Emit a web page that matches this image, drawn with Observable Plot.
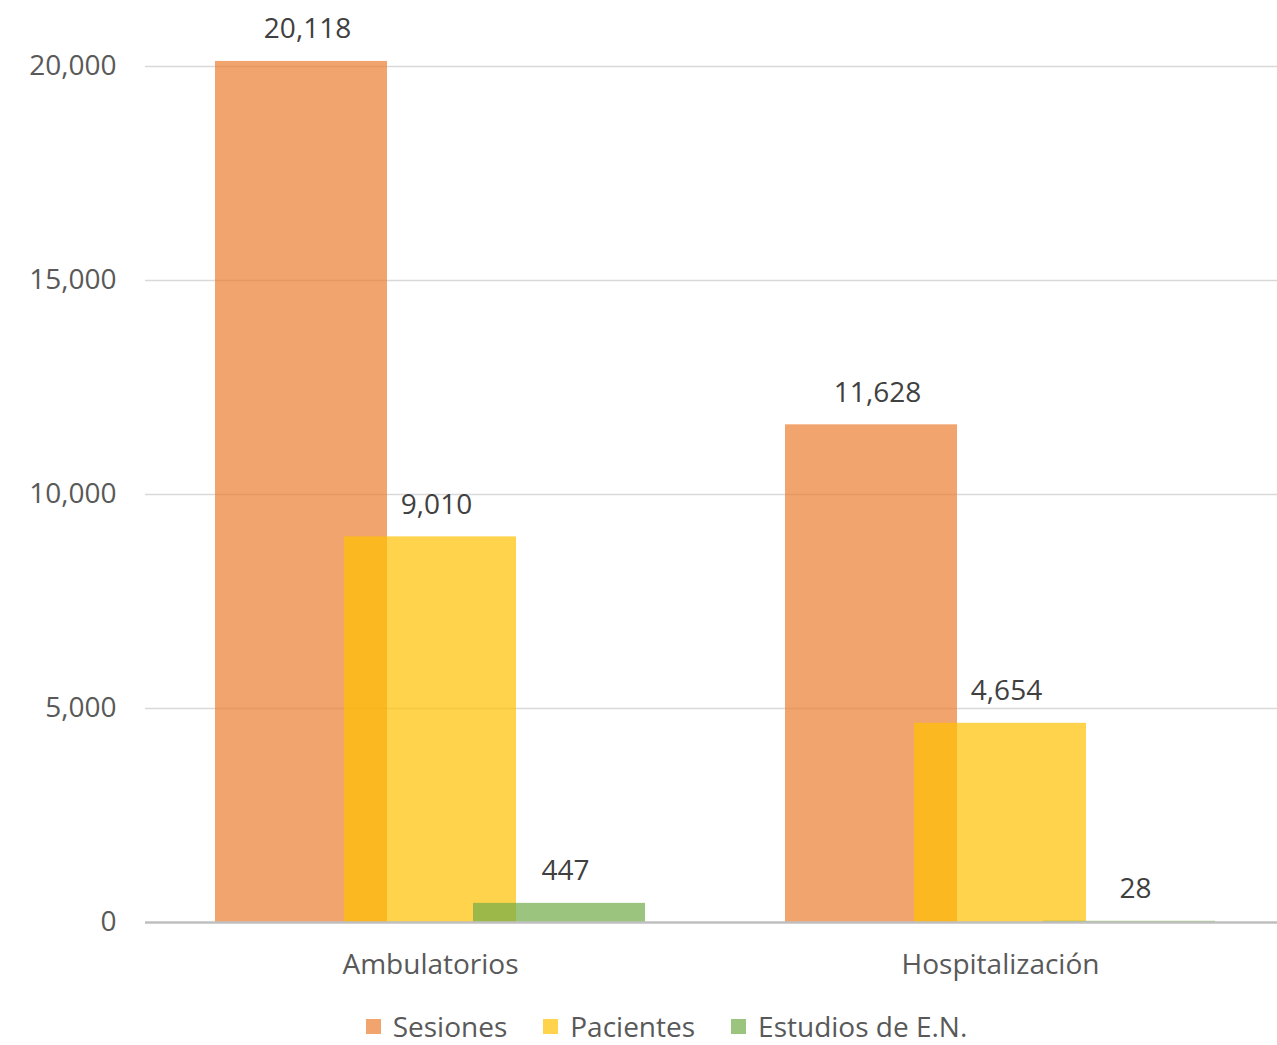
<!DOCTYPE html>
<html>
<head>
<meta charset="utf-8">
<script src="https://cdn.jsdelivr.net/npm/d3@7"></script>
<script src="https://cdn.jsdelivr.net/npm/@observablehq/plot@0.6"></script>
<style>
  html, body { margin: 0; padding: 0; background: #fff; overflow: hidden; }
  body { width: 1277px; font-family: "Open Sans", sans-serif; }
  #chart svg { overflow: hidden; }
  #legend { display: flex; justify-content: center; align-items: center; height: 50px; margin-top: 6px; font-size: 28px; color: #595959; padding-left: 56px; }
  .item { display: flex; align-items: center; margin: 0 18px; }
  .sw { width: 15px; height: 15px; margin-right: 12px; }
</style>
</head>
<body>
<div id="chart"></div>
<div id="legend"></div>
<script>
const categories = ["Ambulatorios", "Hospitalización"];
const series = ["Sesiones", "Pacientes", "Estudios de E.N."];
const sesiones = [20118, 11628];
const pacientes = [9010, 4654];
const estudios = [447, 28];
const yTicks = [0, 5000, 10000, 15000, 20000];
const colors = ["#ED7D31", "#FFC000", "#70AD47"];

const valuesBySeries = [sesiones, pacientes, estudios];
const rows = [];
series.forEach((s, j) => {
  categories.forEach((c, i) => {
    rows.push({category: c, series: s, value: valuesBySeries[j][i]});
  });
});

const fmt = d3.format(",");

const chart = Plot.plot({
  width: 1277,
  height: 995,
  marginLeft: 145,
  marginRight: -8,
  marginTop: 66,
  marginBottom: 73,
  style: {fontFamily: "Open Sans, sans-serif", fontSize: "28px", background: "#fff"},
  fx: {domain: categories, padding: 0, label: null, axis: "bottom", tickSize: 0, tickPadding: 32},
  x: {domain: series, axis: null, paddingInner: -1/3, paddingOuter: 0.539, align: 0.5},
  y: {domain: [0, 20000], ticks: yTicks, tickFormat: fmt, tickSize: 0, tickPadding: 29, label: null},
  color: {domain: series, range: colors},
  marks: [
    Plot.ruleY(yTicks.filter(d => d > 0), {stroke: "#d9d9d9", strokeWidth: 1.5}),
    Plot.barY(rows, {fx: "category", x: "series", y: "value", fill: "series", fillOpacity: 0.7}),
    Plot.ruleY([0], {stroke: "#bfbfbf", strokeWidth: 2.5}),
    Plot.text(rows, {fx: "category", x: "series", y: "value", text: d => fmt(d.value), dx: 6, dy: -32, fill: "#404040", fontSize: 28})
  ]
});

chart.querySelectorAll("[aria-label='y-axis tick label'] text, [aria-label='fx-axis tick label'] text").forEach(t => t.setAttribute("fill", "#595959"));
document.getElementById("chart").appendChild(chart);

const legend = document.getElementById("legend");
series.forEach((s, j) => {
  const item = document.createElement("div");
  item.className = "item";
  const sw = document.createElement("div");
  sw.className = "sw";
  sw.style.background = colors[j];
  sw.style.opacity = 0.7;
  const label = document.createElement("span");
  label.textContent = s;
  item.appendChild(sw);
  item.appendChild(label);
  legend.appendChild(item);
});
</script>
</body>
</html>
